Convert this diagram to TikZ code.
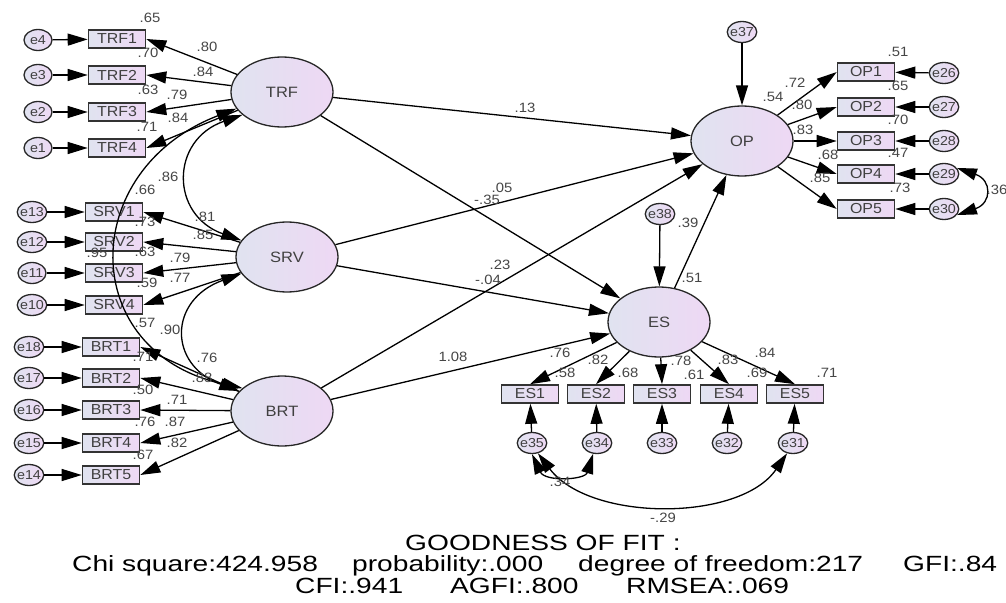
\documentclass[tikz,border=0pt]{standalone}
\usepackage{fontspec}
\setmainfont{Liberation Sans}[FakeStretch=1.1]
\newfontfamily\fitfont{Liberation Sans}[FakeStretch=1.28]
\usetikzlibrary{arrows.meta,shapes.geometric}

\definecolor{fillL}{RGB}{224,227,240}
\definecolor{fillR}{RGB}{238,216,244}
\definecolor{valgray}{RGB}{70,70,70}

\begin{document}
\begin{tikzpicture}[x=1pt,y=-1pt,
  latent/.style={ellipse,draw=black!85,line width=1.3pt,minimum width=102pt,minimum height=70pt,inner sep=0pt,left color=fillL,right color=fillR,text=black!75,font=\fontsize{15}{17}\selectfont},
  obs/.style={rectangle,draw=black!80,line width=1.6pt,minimum width=57pt,minimum height=18pt,inner sep=0pt,left color=fillL,right color=fillR,text=black!75,font=\fontsize{14.5}{16}\selectfont},
  err/.style={ellipse,draw=black!85,line width=1.3pt,minimum width=28pt,minimum height=21pt,inner xsep=-1.5pt,inner ysep=0pt,left color=fillL,right color=fillR,text=black!75,font=\fontsize{13}{15}\selectfont},
  val/.style={inner sep=0pt,text=valgray,font=\fontsize{13.5}{15}\selectfont},
  reg/.style={line width=1.3pt,-{Triangle[length=20pt,width=12pt]}},
  cov/.style={line width=1.3pt,{Triangle[length=20pt,width=12pt]}-{Triangle[length=20pt,width=12pt]}},
  gof/.style={inner sep=0pt,anchor=base west,font=\fitfont\fontsize{22}{24}\selectfont}]
  \useasboundingbox (0,0) rectangle (1006,602);

%% latent variables
  \node[latent] (TRF) at (282,92)  {TRF};
  \node[latent] (SRV) at (287,257) {SRV};
  \node[latent] (BRT) at (282,411) {BRT};
  \node[latent] (OP)  at (742,141) {OP};
  \node[latent] (ES)  at (659,322) {ES};

%% TRF indicators
  \node[obs] (TRF1) at (117,39)  {TRF1};
  \node[obs] (TRF2) at (117,75)  {TRF2};
  \node[obs] (TRF3) at (117,112) {TRF3};
  \node[obs] (TRF4) at (117,148) {TRF4};
  \node[err] (e4) at (38,40)  {e4};
  \node[err] (e3) at (38,75)  {e3};
  \node[err] (e2) at (38,112) {e2};
  \node[err] (e1) at (38,148) {e1};

%% SRV indicators
  \node[obs] (SRV1) at (114,212) {SRV1};
  \node[obs] (SRV2) at (114,242) {SRV2};
  \node[obs] (SRV3) at (114,273) {SRV3};
  \node[obs] (SRV4) at (114,305) {SRV4};
  \node[err] (e13) at (32,212) {e13};
  \node[err] (e12) at (32,242) {e12};
  \node[err] (e11) at (32,273) {e11};
  \node[err] (e10) at (32,305) {e10};

%% BRT indicators
  \node[obs] (BRT1) at (111,347) {BRT1};
  \node[obs] (BRT2) at (111,378) {BRT2};
  \node[obs] (BRT3) at (111,410) {BRT3};
  \node[obs] (BRT4) at (111,443) {BRT4};
  \node[obs] (BRT5) at (111,475) {BRT5};
  \node[err] (e18) at (29,347) {e18};
  \node[err] (e17) at (29,378) {e17};
  \node[err] (e16) at (29,410) {e16};
  \node[err] (e15) at (29,443) {e15};
  \node[err] (e14) at (29,475) {e14};

%% OP indicators
  \node[err] (e37) at (742,32) {e37};
  \node[obs] (OP1) at (866,72)  {OP1};
  \node[obs] (OP2) at (866,107) {OP2};
  \node[obs] (OP3) at (866,141) {OP3};
  \node[obs] (OP4) at (866,174) {OP4};
  \node[obs] (OP5) at (866,209) {OP5};
  \node[err] (e26) at (944,73)  {e26};
  \node[err] (e27) at (944,107) {e27};
  \node[err] (e28) at (944,141) {e28};
  \node[err] (e29) at (944,174) {e29};
  \node[err] (e30) at (944,209) {e30};

%% ES indicators
  \node[err] (e38) at (660,214) {e38};
  \node[obs] (ES1) at (530,394) {ES1};
  \node[obs] (ES2) at (596,394) {ES2};
  \node[obs] (ES3) at (662,394) {ES3};
  \node[obs] (ES4) at (729,394) {ES4};
  \node[obs] (ES5) at (795,394) {ES5};
  \node[err] (e35) at (532,443) {e35};
  \node[err] (e34) at (597,443) {e34};
  \node[err] (e33) at (662,443) {e33};
  \node[err] (e32) at (727,443) {e32};
  \node[err] (e31) at (793,443) {e31};

%% measurement paths
  \draw[reg] (e4) -- (TRF1);
  \draw[reg] (e3) -- (TRF2);
  \draw[reg] (e2) -- (TRF3);
  \draw[reg] (e1) -- (TRF4);
  \draw[reg] (TRF) -- (TRF1.east);
  \draw[reg] (TRF) -- (TRF2.east);
  \draw[reg] (TRF) -- (TRF3.east);
  \draw[reg] (TRF) -- (TRF4.east);
  \draw[reg] (e13) -- (SRV1);
  \draw[reg] (e12) -- (SRV2);
  \draw[reg] (e11) -- (SRV3);
  \draw[reg] (e10) -- (SRV4);
  \draw[reg] (SRV) -- (SRV1.east);
  \draw[reg] (SRV) -- (SRV2.east);
  \draw[reg] (SRV) -- (SRV3.east);
  \draw[reg] (SRV) -- (SRV4.east);
  \draw[reg] (e18) -- (BRT1);
  \draw[reg] (e17) -- (BRT2);
  \draw[reg] (e16) -- (BRT3);
  \draw[reg] (e15) -- (BRT4);
  \draw[reg] (e14) -- (BRT5);
  \draw[reg] (BRT) -- (BRT1.east);
  \draw[reg] (BRT) -- (BRT2.east);
  \draw[reg] (BRT) -- (BRT3.east);
  \draw[reg] (BRT) -- (BRT4.east);
  \draw[reg] (BRT) -- (BRT5.east);
  \draw[reg] (OP) -- (OP1.west);
  \draw[reg] (OP) -- (OP2.west);
  \draw[reg] (OP) -- (OP3.west);
  \draw[reg] (OP) -- (OP4.west);
  \draw[reg] (OP) -- (OP5.west);
  \draw[reg] (e26) -- (OP1);
  \draw[reg] (e27) -- (OP2);
  \draw[reg] (e28) -- (OP3);
  \draw[reg] (e29) -- (OP4);
  \draw[reg] (e30) -- (OP5);
  \draw[reg] (ES) -- (ES1.north);
  \draw[reg] (ES) -- (ES2.north);
  \draw[reg] (ES) -- (ES3.north);
  \draw[reg] (ES) -- (ES4.north);
  \draw[reg] (ES) -- (ES5.north);
  \draw[reg] (e35) -- (ES1);
  \draw[reg] (e34) -- (ES2);
  \draw[reg] (e33) -- (ES3);
  \draw[reg] (e32) -- (ES4);
  \draw[reg] (e31) -- (ES5);

%% structural paths
  \draw[reg] (e37) -- (OP);
  \draw[reg] (e38) -- (ES);
  \draw[reg] (TRF) -- (OP);
  \draw[reg] (TRF) -- (ES);
  \draw[reg] (SRV) -- (OP);
  \draw[reg] (SRV) -- (ES);
  \draw[reg] (BRT) -- (OP);
  \draw[reg] (BRT) -- (ES);
  \draw[reg] (ES) -- (OP);

%% covariances
  \draw[cov] (TRF.210) .. controls (170,140) and (170,215) .. (SRV.160);
  \draw[cov] (SRV.200) .. controls (168,300) and (168,365) .. (BRT.155);
  \draw[cov] (TRF.200) .. controls (77,170) and (77,352) .. (BRT.150);
  \draw[cov] (e29.25) .. controls (992,180) and (992,203) .. (e30.335);
  \draw[cov] (e35.south) .. controls (545,482) and (585,480) .. (e34.250);
  \draw[cov] (e35.300) .. controls (590,522) and (740,522) .. (e31.240);

%% estimates, TRF
  \node[val] (rTRF1) at (150,18)  {.65};
  \node[val] (rTRF2) at (148,53)  {.70};
  \node[val] (rTRF3) at (148,90)  {.63};
  \node[val] (rTRF4) at (147,127) {.71};
  \node[val] (wTRF1) at (207,47)  {.80};
  \node[val] (wTRF2) at (203,72)  {.84};
  \node[val] (wTRF3) at (177,95)  {.79};
  \node[val] (wTRF4) at (178,118) {.84};
  \node[val] (cTS)   at (168,177) {.86};
  \node[val] (cTB)   at (145,190) {.66};

%% estimates, SRV
  \node[val] (rSRV1) at (145,222) {.73};
  \node[val] (wSRV1) at (205,217) {.81};
  \node[val] (wSRV2) at (203,235) {.85};
  \node[val] (rSRV2) at (97,253)  {.95};
  \node[val] (rSRV3) at (145,252) {.63};
  \node[val] (wSRV3) at (180,258) {.79};
  \node[val] (rSRV4) at (147,283) {.59};
  \node[val] (wSRV4) at (180,278) {.77};
  \node[val] (cSB)   at (145,323) {.57};
  \node[val] (cSBb)  at (170,330) {.90};

%% estimates, BRT
  \node[val] (rBRT1) at (143,357) {.71};
  \node[val] (wBRT1) at (207,358) {.76};
  \node[val] (wBRT2) at (202,378) {.88};
  \node[val] (rBRT2) at (143,390) {.50};
  \node[val] (wBRT3) at (177,400) {.71};
  \node[val] (rBRT3) at (145,422) {.76};
  \node[val] (wBRT4) at (175,422) {.87};
  \node[val] (wBRT5) at (177,443) {.82};
  \node[val] (rBRT4) at (143,455) {.67};

%% estimates, structural
  \node[val] (bTO) at (525,108) {.13};
  \node[val] (bSO) at (502,188) {.05};
  \node[val] (bTE) at (487,200) {-.35};
  \node[val] (bBO) at (500,265) {.23};
  \node[val] (bSE) at (488,280) {-.04};
  \node[val] (bBE) at (453,357) {1.08};
  \node[val] (rES) at (688,223) {.39};
  \node[val] (bEO) at (692,278) {.51};

%% estimates, ES
  \node[val] (wES1) at (560,353) {.76};
  \node[val] (wES2) at (598,360) {.82};
  \node[val] (rES1) at (565,373) {.58};
  \node[val] (rES2) at (628,373) {.68};
  \node[val] (wES3) at (681,361) {.78};
  \node[val] (rES3) at (694,375) {.61};
  \node[val] (wES4) at (728,360) {.83};
  \node[val] (rES4) at (757,373) {.69};
  \node[val] (wES5) at (765,353) {.84};
  \node[val] (rES5) at (827,373) {.71};
  \node[val] (cE1)  at (560,482) {.34};
  \node[val] (cE2)  at (663,518) {-.29};

%% estimates, OP
  \node[val] (rOP)  at (773,97)  {.54};
  \node[val] (wOP1) at (795,83)  {.72};
  \node[val] (wOP2) at (802,105) {.80};
  \node[val] (wOP3) at (803,130) {.83};
  \node[val] (wOP4) at (828,155) {.68};
  \node[val] (wOP5) at (820,178) {.85};
  \node[val] (rOP1) at (898,52)  {.51};
  \node[val] (rOP2) at (898,86)  {.65};
  \node[val] (rOP3) at (898,120) {.70};
  \node[val] (rOP4) at (898,153) {.47};
  \node[val] (rOP5) at (900,188) {.73};
  \node[val] (cOP)  at (997,190) {.36};

%% fit indices
  \node[gof] (gofT) at (405,550) {GOODNESS OF FIT :};
  \node[gof] (gofA) at (72,571)  {Chi square:424.958};
  \node[gof] (gofB) at (352,571) {probability:.000};
  \node[gof] (gofC) at (578,571) {degree of freedom:217};
  \node[gof] (gofD) at (903,571) {GFI:.84};
  \node[gof] (gofE) at (295,593) {CFI:.941};
  \node[gof] (gofF) at (450,593) {AGFI:.800};
  \node[gof] (gofG) at (626,593) {RMSEA:.069};

\end{tikzpicture}
\end{document}
